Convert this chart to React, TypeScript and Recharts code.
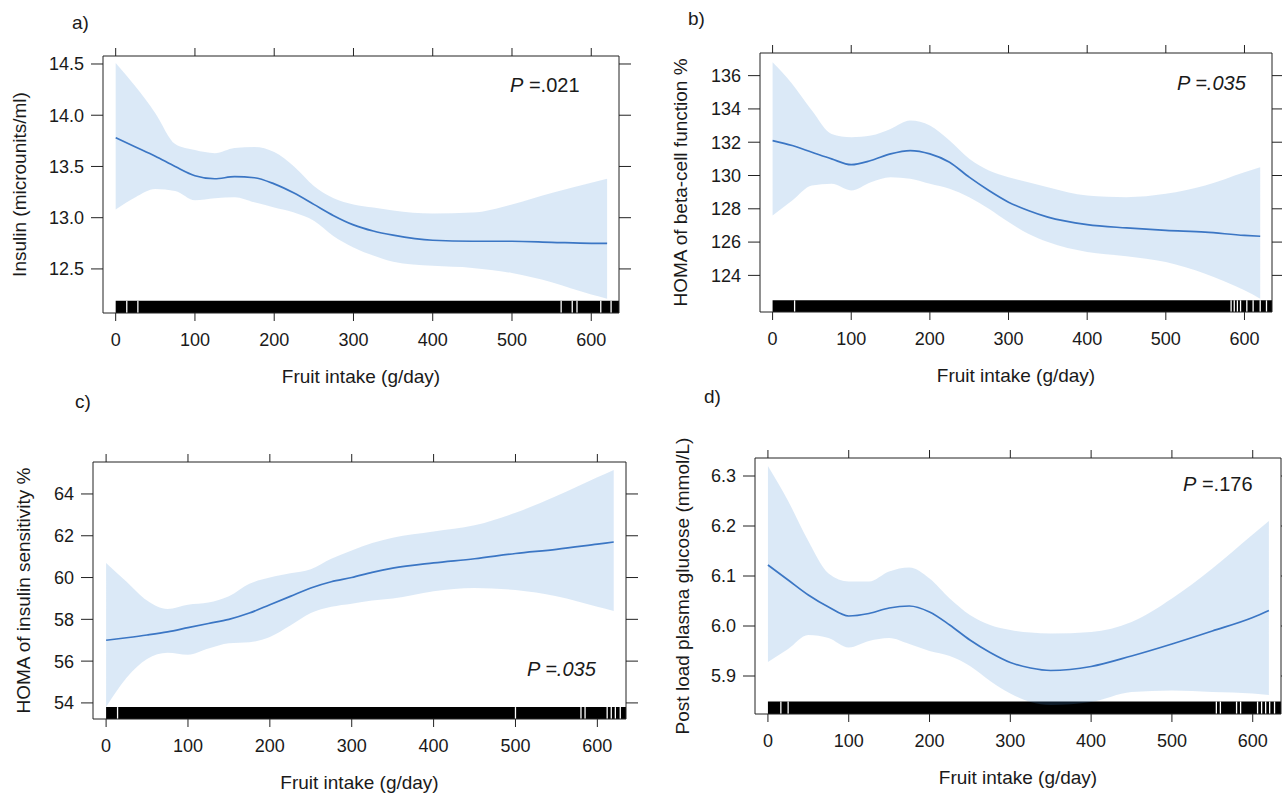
import React from 'react';
import { ComposedChart, Area, Line, XAxis, YAxis, ReferenceArea, ReferenceLine } from 'recharts';

const FONT = '"Liberation Sans", Arial, Helvetica, sans-serif';
const INK = '#1a1a1a';
const LINE_BLUE = '#3b76c4';
const BAND_BLUE = '#4a90d9';

// shared x grid (fruit intake, g/day)
const fruitIntake = [0, 25, 50, 75, 100, 125, 150, 175, 200, 225, 250, 275, 300, 325, 350, 400, 450, 500, 550, 600, 620];
const xTicks = [0, 100, 200, 300, 400, 500, 600];
const xDomain: [number, number] = [-16, 635];

// a) insulin
const insulinFit = [13.78, 13.69, 13.6, 13.5, 13.41, 13.38, 13.4, 13.39, 13.33, 13.24, 13.13, 13.02, 12.93, 12.87, 12.83, 12.78, 12.77, 12.77, 12.76, 12.75, 12.75];
const insulinUpper = [14.51, 14.28, 14.02, 13.72, 13.66, 13.63, 13.68, 13.69, 13.64, 13.5, 13.31, 13.19, 13.13, 13.1, 13.07, 13.04, 13.05, 13.13, 13.24, 13.34, 13.38];
const insulinLower = [13.08, 13.2, 13.28, 13.26, 13.17, 13.19, 13.2, 13.15, 13.1, 13.05, 12.97, 12.82, 12.71, 12.63, 12.57, 12.53, 12.51, 12.46, 12.37, 12.25, 12.21];
const insulinTicks = [12.5, 13, 13.5, 14, 14.5];
const insulinRugGaps = [14, 28, 562, 576, 582, 612, 625];

// b) HOMA beta-cell function
const betaFit = [132.1, 131.8, 131.4, 131.0, 130.65, 130.9, 131.3, 131.5, 131.3, 130.8, 129.9, 129.1, 128.4, 127.9, 127.5, 127.05, 126.85, 126.7, 126.6, 126.4, 126.35];
const betaUpper = [136.8, 135.5, 133.9, 132.5, 132.3, 132.4, 132.8, 133.3, 133.0, 132.1, 131.0, 130.3, 129.9, 129.6, 129.3, 128.8, 128.7, 128.9, 129.4, 130.2, 130.5];
const betaLower = [127.6, 128.5, 129.4, 129.5, 129.1, 129.6, 129.9, 129.8, 129.5, 129.2, 128.7, 128.0, 127.2, 126.5, 126.0, 125.4, 125.15, 124.8, 124.1, 123.1, 122.6];
const betaTicks = [124, 126, 128, 130, 132, 134, 136];
const betaRugGaps = [28, 583, 587, 591, 595, 603, 611, 620, 628];

// c) HOMA insulin sensitivity
const sensFit = [57.0, 57.12, 57.25, 57.4, 57.6, 57.8, 58.0, 58.3, 58.7, 59.1, 59.5, 59.8, 60.0, 60.25, 60.45, 60.7, 60.9, 61.15, 61.35, 61.6, 61.7];
const sensUpper = [60.7, 59.8, 58.9, 58.5, 58.7, 58.8, 59.1, 59.7, 60.0, 60.2, 60.4, 60.9, 61.3, 61.65, 61.9, 62.2, 62.5, 63.1, 63.9, 64.8, 65.15];
const sensLower = [53.8, 55.2, 56.1, 56.4, 56.3, 56.6, 56.85, 56.9, 57.15, 57.7, 58.3, 58.6, 58.75, 58.9, 59.0, 59.35, 59.5, 59.4, 59.1, 58.6, 58.4];
const sensTicks = [54, 56, 58, 60, 62, 64];
const sensRugGaps = [14, 500, 580, 585, 612, 617, 622, 628];

// d) post load plasma glucose
const glucoseFit = [6.122, 6.092, 6.062, 6.038, 6.02, 6.025, 6.036, 6.04, 6.028, 6.002, 5.972, 5.947, 5.927, 5.916, 5.911, 5.919, 5.94, 5.964, 5.99, 6.017, 6.031];
const glucoseUpper = [6.32, 6.25, 6.17, 6.105, 6.089, 6.089, 6.109, 6.117, 6.095, 6.055, 6.022, 6.002, 5.992, 5.987, 5.985, 5.988, 6.008, 6.055, 6.115, 6.183, 6.21];
const glucoseLower = [5.928, 5.954, 5.982, 5.976, 5.957, 5.97, 5.976, 5.964, 5.95, 5.94, 5.92, 5.89, 5.865, 5.848, 5.842, 5.848, 5.868, 5.871, 5.868, 5.865, 5.862];
const glucoseTicks = [5.9, 6.0, 6.1, 6.2, 6.3];
const glucoseRugGaps = [16, 25, 555, 560, 580, 585, 606, 611, 616, 621, 627];

interface PanelProps {
  fit: number[];
  lower: number[];
  upper: number[];
  yTicks: number[];
  yDomain: [number, number];
  yDecimals: number;
  rugTop: number;
  rugGaps: number[];
  yTitle: string;
  yTitleGap: number;
  left: number;
  top: number;
  margin: { top: number; right: number; bottom: number; left: number };
  rightAxisWidth: number;
}

const tickStyle = { fill: INK, fontSize: 18, fontFamily: FONT };

function yTitleLabel(text: string, gap: number) {
  return (props: any) => {
    const vb = props?.viewBox ?? {};
    const x = (vb.x ?? 0) + (vb.width ?? 0) - gap;
    const y = (vb.y ?? 0) + (vb.height ?? 0) / 2;
    return (
      <text x={x} y={y} transform={`rotate(-90 ${x} ${y})`} textAnchor="middle" fontSize={19} fontFamily={FONT} fill={INK}>
        {text}
      </text>
    );
  };
}

function xTitleLabel(props: any) {
  const vb = props?.viewBox ?? {};
  const x = (vb.x ?? 0) + (vb.width ?? 0) / 2;
  const y = (vb.y ?? 0) + 70;
  return (
    <text x={x} y={y} textAnchor="middle" fontSize={19} fontFamily={FONT} fill={INK}>
      Fruit intake (g/day)
    </text>
  );
}

function Panel(p: PanelProps) {
  const rows = fruitIntake.map((x, i) => ({ x, fit: p.fit[i], band: [p.lower[i], p.upper[i]] }));
  const blank = () => '';
  const axisStroke = { stroke: '#222', strokeWidth: 1 };
  return (
    <div style={{ position: 'absolute', left: p.left, top: p.top }}>
      <ComposedChart width={641} height={398} data={rows} margin={p.margin}>
        <XAxis
          xAxisId="b"
          dataKey="x"
          type="number"
          domain={xDomain}
          allowDataOverflow
          ticks={xTicks}
          interval={0}
          tickSize={8}
          tickMargin={12}
          height={40}
          tick={tickStyle}
          axisLine={axisStroke}
          tickLine={axisStroke}
          label={xTitleLabel}
        />
        <XAxis
          xAxisId="t"
          orientation="top"
          dataKey="x"
          type="number"
          domain={xDomain}
          allowDataOverflow
          ticks={xTicks}
          interval={0}
          tickSize={8}
          height={10}
          tickFormatter={blank}
          axisLine={axisStroke}
          tickLine={axisStroke}
        />
        <YAxis
          yAxisId="l"
          type="number"
          domain={p.yDomain}
          allowDataOverflow
          ticks={p.yTicks}
          interval={0}
          tickSize={12}
          tickMargin={7}
          width={60}
          tick={tickStyle}
          tickFormatter={(v: number) => v.toFixed(p.yDecimals)}
          axisLine={axisStroke}
          tickLine={axisStroke}
          label={yTitleLabel(p.yTitle, p.yTitleGap)}
        />
        <YAxis
          yAxisId="r"
          orientation="right"
          type="number"
          domain={p.yDomain}
          allowDataOverflow
          ticks={p.yTicks}
          interval={0}
          tickSize={12}
          width={p.rightAxisWidth}
          tickFormatter={blank}
          axisLine={axisStroke}
          tickLine={axisStroke}
        />

        {/* rug of observations, kept under the band */}
        <ReferenceArea
          xAxisId="b"
          yAxisId="l"
          x1={0}
          x2={xDomain[1]}
          y1={p.yDomain[0]}
          y2={p.rugTop}
          fill="#000"
          fillOpacity={1}
          stroke="none"
          zIndex={50}
        />
        {p.rugGaps.map((g) => (
          <ReferenceLine
            key={g}
            xAxisId="b"
            yAxisId="l"
            segment={[
              { x: g, y: p.yDomain[0] },
              { x: g, y: p.rugTop },
            ]}
            stroke="#fff"
            strokeWidth={1.3}
            zIndex={60}
          />
        ))}

        <Area
          xAxisId="b"
          yAxisId="l"
          dataKey="band"
          type="monotone"
          stroke="none"
          fill={BAND_BLUE}
          fillOpacity={0.2}
          dot={false}
          activeDot={false}
          isAnimationActive={false}
        />
        <Line
          xAxisId="b"
          yAxisId="l"
          dataKey="fit"
          type="monotone"
          stroke={LINE_BLUE}
          strokeWidth={1.7}
          dot={false}
          activeDot={false}
          isAnimationActive={false}
        />
      </ComposedChart>
    </div>
  );
}

export default function App() {
  const txt = { fontFamily: FONT, fill: INK, whiteSpace: 'pre' as const };
  return (
    <div style={{ position: 'absolute', left: 0, top: 0, width: 1282, height: 796, background: '#fff', overflow: 'hidden' }}>
      <Panel
        fit={insulinFit}
        lower={insulinLower}
        upper={insulinUpper}
        yTicks={insulinTicks}
        yDomain={[12.07, 14.578]}
        yDecimals={1}
        rugTop={12.19}
        rugGaps={insulinRugGaps}
        yTitle="Insulin (microunits/ml)"
        yTitleGap={77}
        left={0}
        top={0}
        margin={{ top: 46, right: 12, bottom: 45, left: 43 }}
        rightAxisWidth={10}
      />
      <Panel
        fit={betaFit}
        lower={betaLower}
        upper={betaUpper}
        yTicks={betaTicks}
        yDomain={[121.8, 137.36]}
        yDecimals={0}
        rugTop={122.5}
        rugGaps={betaRugGaps}
        yTitle="HOMA of beta-cell function %"
        yTitleGap={73}
        left={641}
        top={0}
        margin={{ top: 43, right: 0, bottom: 46, left: 59 }}
        rightAxisWidth={10}
      />
      <Panel
        fit={sensFit}
        lower={sensLower}
        upper={sensUpper}
        yTicks={sensTicks}
        yDomain={[53.23, 65.53]}
        yDecimals={0}
        rugTop={53.8}
        rugGaps={sensRugGaps}
        yTitle="HOMA of insulin sensitivity %"
        yTitleGap={63}
        left={0}
        top={398}
        margin={{ top: 54, right: 5, bottom: 37, left: 33 }}
        rightAxisWidth={10}
      />
      <Panel
        fit={glucoseFit}
        lower={glucoseLower}
        upper={glucoseUpper}
        yTicks={glucoseTicks}
        yDomain={[5.824, 6.336]}
        yDecimals={1}
        rugTop={5.849}
        rugGaps={glucoseRugGaps}
        yTitle="Post load plasma glucose (mmol/L)"
        yTitleGap={66}
        left={641}
        top={398}
        margin={{ top: 50, right: 0, bottom: 42, left: 54 }}
        rightAxisWidth={1}
      />

      {/* panel letters and P values */}
      <svg width={1282} height={796} style={{ position: 'absolute', left: 0, top: 0, pointerEvents: 'none' }}>
        <text x={72} y={29} fontSize={19} style={txt}>a)</text>
        <text x={688} y={25} fontSize={19} style={txt}>b)</text>
        <text x={75} y={408} fontSize={19} style={txt}>c)</text>
        <text x={704} y={403} fontSize={19} style={txt}>d)</text>

        <text x={510} y={92} fontSize={20} style={txt}>
          <tspan fontStyle="italic">P</tspan>
          <tspan> =.021</tspan>
        </text>
        <text x={1177} y={90} fontSize={20} fontStyle="italic" style={txt}>P =.035</text>
        <text x={527} y={676} fontSize={20} fontStyle="italic" style={txt}>P =.035</text>
        <text x={1183} y={491} fontSize={20} style={txt}>
          <tspan fontStyle="italic">P</tspan>
          <tspan> =.176</tspan>
        </text>
      </svg>
    </div>
  );
}
